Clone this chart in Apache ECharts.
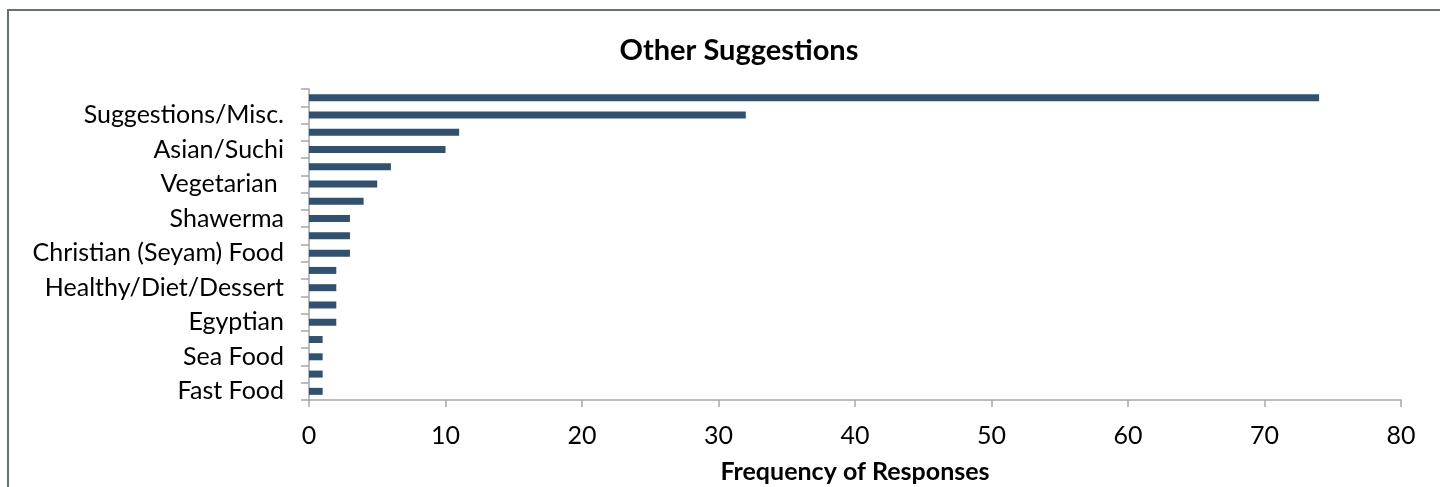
<!DOCTYPE html>
<html>
<head>
<meta charset="utf-8">
<title>Other Suggestions</title>
<script src="https://cdn.jsdelivr.net/npm/echarts@6/dist/echarts.min.js"></script>
<style>
  html, body { margin: 0; padding: 0; background: #ffffff; }
  #chart { width: 1440px; height: 487px; }
</style>
</head>
<body>
<div id="chart"></div>
<script>
// Categories listed bottom to top; only every other row carries a label.
const categories = [
  'Fast Food', '', 'Sea Food', '', 'Egyptian', '',
  'Healthy/Diet/Dessert', '', 'Christian (Seyam) Food', '',
  'Shawerma', '', 'Vegetarian ', '', 'Asian/Suchi', '',
  'Suggestions/Misc.', ''
];
const responses = [1, 1, 1, 1, 2, 2, 2, 2, 3, 3, 3, 4, 5, 6, 10, 11, 32, 74];
const xTicks = { min: 0, max: 80, step: 10 };

const FONT = 'Lato, "Open Sans", sans-serif';
const chart = echarts.init(document.getElementById('chart'), null, { renderer: 'canvas' });

chart.setOption({
  animation: false,
  backgroundColor: '#ffffff',
  title: {
    text: 'Other Suggestions',
    left: 734,
    top: 31,
    textAlign: 'center',
    textStyle: { fontFamily: FONT, fontSize: 29, fontWeight: 'bold', color: '#000000' }
  },
  // chart-area frame (top and left edges)
  graphic: [{
    type: 'polyline',
    shape: { points: [[8, 487], [8, 10], [1440, 10]] },
    style: { stroke: '#65707a', lineWidth: 2, fill: null },
    silent: true
  }],
  grid: {
    left: 309, right: 39, top: 89, bottom: 87,
    containLabel: false, outerBoundsMode: 'none'
  },
  xAxis: {
    type: 'value',
    min: xTicks.min,
    max: xTicks.max,
    interval: xTicks.step,
    name: 'Frequency of Responses',
    nameLocation: 'middle',
    nameGap: 59,
    nameTextStyle: { fontFamily: FONT, fontSize: 25, fontWeight: 'bold', color: '#000000' },
    axisLine: { show: true, lineStyle: { color: '#a6a6a6', width: 1.5 } },
    axisTick: { show: true, length: 7, lineStyle: { color: '#a6a6a6', width: 1.5 } },
    axisLabel: { margin: 23, fontFamily: FONT, fontSize: 25, color: '#000000' },
    splitLine: { show: false }
  },
  yAxis: {
    type: 'category',
    data: categories,
    axisLine: { show: true, lineStyle: { color: '#a6a6a6', width: 1.5 } },
    axisTick: { show: true, interval: 0, length: 8, lineStyle: { color: '#a6a6a6', width: 1.5 } },
    axisLabel: {
      interval: 1, margin: 25, padding: [17, 0, 0, 0],
      fontFamily: FONT, fontSize: 25, color: '#000000'
    },
    splitLine: { show: false }
  },
  series: [{
    type: 'bar',
    data: responses,
    barWidth: 7,
    itemStyle: { color: '#30516f' },
    silent: true
  }]
});
</script>
</body>
</html>
